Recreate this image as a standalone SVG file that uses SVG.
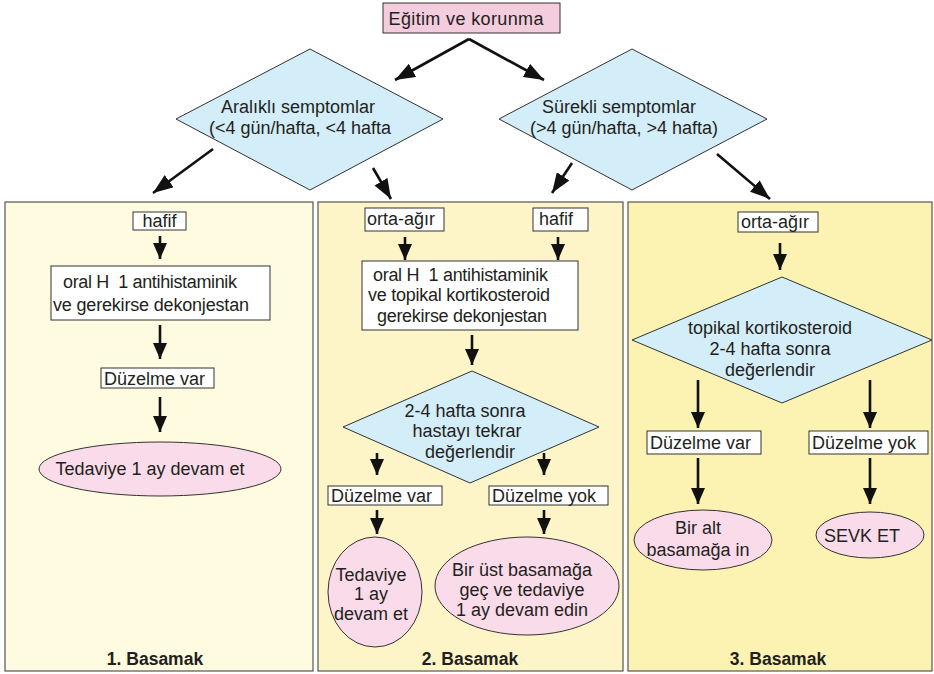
<svg xmlns="http://www.w3.org/2000/svg" width="934" height="674" viewBox="0 0 934 674">
<defs>
<style>
text{font-family:"Liberation Sans",Arial,sans-serif;font-size:18px;fill:#231f20}
.c{text-anchor:middle}
.b{font-weight:bold;font-size:17.5px}
.box{fill:#ffffff;stroke:#333;stroke-width:1}
.pink{fill:#f3cddd;stroke:#333;stroke-width:1}
.ell{fill:#fadbe9;stroke:#333;stroke-width:1}
.dia{fill:#d3edf9;stroke:#333;stroke-width:1}
.panel{stroke:#555;stroke-width:1.2}
.ar{stroke:#111;stroke-width:2.6;fill:none;marker-end:url(#ah)}
.ad{stroke:#111;stroke-width:2.6;fill:none;marker-end:url(#ahd)}
</style>
<marker id="ah" markerUnits="userSpaceOnUse" viewBox="0 0 16 14" refX="16" refY="7" markerWidth="16" markerHeight="14" orient="auto">
<path d="M0,0 L16,7 L0,14 z" fill="#111"/>
</marker>
<marker id="ahd" markerUnits="userSpaceOnUse" viewBox="0 0 20 15" refX="20" refY="7.5" markerWidth="20" markerHeight="15" orient="auto">
<path d="M0,0 L20,7.5 L0,15 z" fill="#111"/>
</marker>
</defs>
<rect width="934" height="674" fill="#ffffff"/>

<g id="panels">
<rect class="panel" x="5" y="202" width="308" height="469" fill="#fefbe0"/>
<rect class="panel" x="318" y="202" width="305" height="469" fill="#fdf5c8"/>
<rect class="panel" x="628" y="202" width="304" height="469" fill="#fcf3b2"/>
<text class="c b" x="155" y="665">1. Basamak</text>
<text class="c b" x="470" y="665">2. Basamak</text>
<text class="c b" x="778" y="665">3. Basamak</text>
</g>

<g id="connectors">
<line class="ad" x1="469" y1="39" x2="395" y2="80"/>
<line class="ad" x1="469" y1="39" x2="544" y2="80"/>
<line class="ad" x1="213" y1="149" x2="153" y2="193"/>
<line class="ad" x1="373" y1="168" x2="391" y2="199"/>
<line class="ad" x1="572" y1="163" x2="552" y2="193"/>
<line class="ad" x1="717" y1="154" x2="770" y2="199"/>
<line class="ar" x1="160" y1="236" x2="160" y2="259"/>
<line class="ar" x1="160" y1="325" x2="160" y2="359"/>
<line class="ar" x1="160" y1="397" x2="160" y2="432"/>
<line class="ar" x1="405" y1="237" x2="405" y2="260"/>
<line class="ar" x1="558" y1="237" x2="558" y2="260"/>
<line class="ar" x1="472" y1="335" x2="472" y2="365"/>
<line class="ar" x1="377" y1="453" x2="377" y2="475"/>
<line class="ar" x1="544" y1="453" x2="544" y2="475"/>
<line class="ar" x1="377" y1="510" x2="377" y2="534"/>
<line class="ar" x1="544" y1="510" x2="544" y2="534"/>
<line class="ar" x1="780" y1="243" x2="780" y2="270"/>
<line class="ar" x1="698" y1="380" x2="698" y2="428"/>
<line class="ar" x1="870" y1="380" x2="870" y2="428"/>
<line class="ar" x1="698" y1="458" x2="698" y2="504"/>
<line class="ar" x1="870" y1="458" x2="870" y2="504"/>
</g>

<g id="egitim">
<rect class="pink" x="383" y="3" width="177" height="30"/>
<text class="c" x="466" y="25" textLength="155">Eğitim ve korunma</text>
</g>

<g id="aralikli">
<polygon class="dia" points="310,49 443,119 310,190 176,119"/>
<text class="c" x="298" y="113">Aralıklı semptomlar</text>
<text class="c" x="300" y="134">(&lt;4 gün/hafta, &lt;4 hafta</text>
</g>

<g id="surekli">
<polygon class="dia" points="632,49 767,119 632,190 499,119"/>
<text class="c" x="619" y="113">Sürekli semptomlar</text>
<text class="c" x="624" y="134">(&gt;4 gün/hafta, &gt;4 hafta)</text>
</g>

<g id="p1-hafif">
<rect class="box" x="133" y="212" width="53" height="18"/>
<text class="c" x="159.5" y="227">hafif</text>
</g>
<g id="p1-oral">
<rect class="box" x="51" y="266" width="219" height="54"/>
<text x="63" y="288" textLength="174">oral H&#160; 1 antihistaminik</text>
<text x="53" y="311" textLength="196">ve gerekirse dekonjestan</text>
</g>
<g id="p1-duzelme">
<rect class="box" x="101" y="368" width="113" height="20"/>
<text x="104" y="385" textLength="101">Düzelme var</text>
</g>
<g id="p1-tedavi">
<ellipse class="ell" cx="160" cy="469" rx="121" ry="27"/>
<text class="c" x="150" y="475">Tedaviye 1 ay devam et</text>
</g>

<g id="p2-orta">
<rect class="box" x="365" y="208" width="79" height="23"/>
<text x="367" y="225">orta-ağır</text>
</g>
<g id="p2-hafif">
<rect class="box" x="533" y="208" width="55" height="23"/>
<text x="539" y="225">hafif</text>
</g>
<g id="p2-oral">
<rect class="box" x="362" y="261" width="216" height="69"/>
<text x="373" y="281" textLength="175">oral H&#160; 1 antihistaminik</text>
<text x="368" y="301" textLength="182">ve topikal kortikosteroid</text>
<text x="377" y="322" textLength="170">gerekirse dekonjestan</text>
</g>
<g id="p2-degerlendir">
<polygon class="dia" points="472,371 599,427 470,483 343,427"/>
<text class="c" x="465" y="417">2-4 hafta sonra</text>
<text class="c" x="467" y="437">hastayı tekrar</text>
<text class="c" x="470" y="458">değerlendir</text>
</g>
<g id="p2-var">
<rect class="box" x="328" y="486" width="114" height="19"/>
<text x="331" y="502">Düzelme var</text>
</g>
<g id="p2-yok">
<rect class="box" x="489" y="486" width="119" height="19"/>
<text x="492" y="502">Düzelme yok</text>
</g>
<g id="p2-tedavi">
<ellipse class="ell" cx="375" cy="592" rx="47" ry="55"/>
<text class="c" x="371" y="581">Tedaviye</text>
<text class="c" x="371" y="600">1 ay</text>
<text class="c" x="371" y="620">devam et</text>
</g>
<g id="p2-ust">
<ellipse class="ell" cx="527" cy="586" rx="92" ry="49"/>
<text class="c" x="522" y="576">Bir üst basamağa</text>
<text class="c" x="522" y="596">geç ve tedaviye</text>
<text class="c" x="522" y="616">1 ay devam edin</text>
</g>

<g id="p3-orta">
<rect class="box" x="738" y="212" width="80" height="20"/>
<text x="741" y="228">orta-ağır</text>
</g>
<g id="p3-topikal">
<polygon class="dia" points="782,277 932,340 782,403 632,340"/>
<text class="c" x="770" y="334">topikal kortikosteroid</text>
<text class="c" x="770" y="355">2-4 hafta sonra</text>
<text class="c" x="770" y="376">değerlendir</text>
</g>
<g id="p3-var">
<rect class="box" x="647" y="431" width="114" height="23"/>
<text x="650" y="449">Düzelme var</text>
</g>
<g id="p3-yok">
<rect class="box" x="809" y="431" width="119" height="23"/>
<text x="812" y="449">Düzelme yok</text>
</g>
<g id="p3-alt">
<ellipse class="ell" cx="703" cy="540" rx="69" ry="30"/>
<text class="c" x="698" y="534">Bir alt</text>
<text class="c" x="698" y="556">basamağa in</text>
</g>
<g id="p3-sevk">
<ellipse class="ell" cx="870" cy="535" rx="54" ry="23"/>
<text class="c" x="862" y="542">SEVK ET</text>
</g>
</svg>
